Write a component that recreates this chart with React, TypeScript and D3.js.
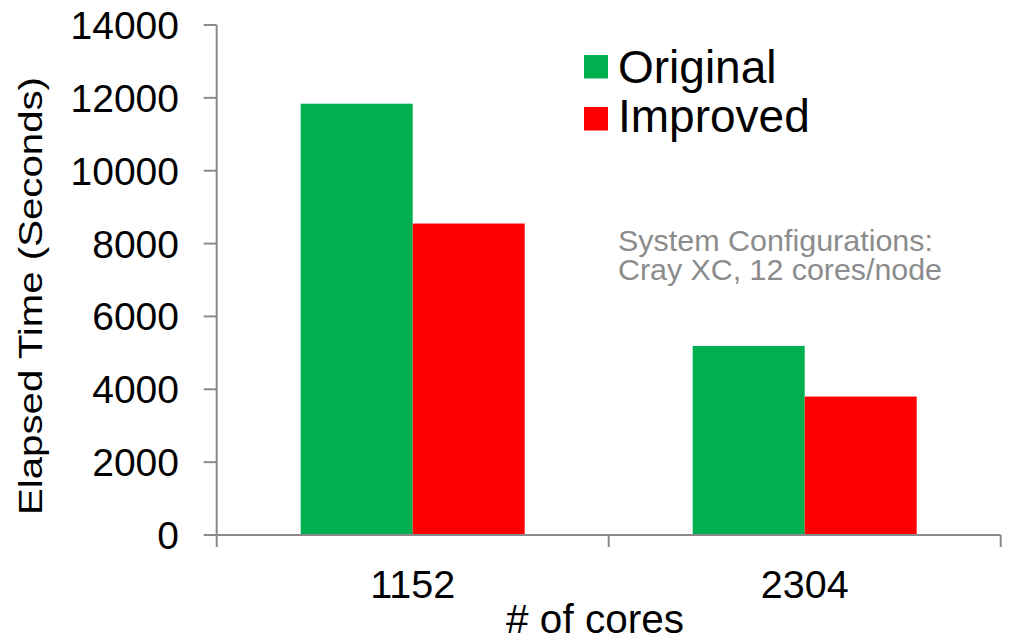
import React from "react";
import * as d3 from "d3";

// Elapsed time per core count, original vs improved code
const categories = ["1152", "2304"];
const seriesNames = ["Original", "Improved"];
const originalSeconds = [11840, 5190];
const improvedSeconds = [8550, 3800];
const yTicks = [0, 2000, 4000, 6000, 8000, 10000, 12000, 14000];
const noteLines = ["System Configurations:", "Cray XC, 12 cores/node"];

const W = 1009;
const H = 639;
const FONT = "'Liberation Sans', Arial, Helvetica, sans-serif";
const COLORS = ["#00AF50", "#FF0000"];
const AXIS = "#8a8a8a";

export default function App() {
  const left = 216.7;
  const right = 1000.7;
  const top = 25;
  const bottom = 535;

  const y = d3.scaleLinear().domain([0, 14000]).range([bottom, top]);
  const x0 = d3.scaleBand<string>().domain(categories).range([left, right]).padding(0);
  const x1 = d3
    .scaleBand<string>()
    .domain(seriesNames)
    .range([0, x0.bandwidth()])
    .paddingInner(0)
    .paddingOuter(0.75);

  const values = [originalSeconds, improvedSeconds];
  const boundaries = [left, ...categories.map((c) => (x0(c) as number) + x0.bandwidth())];
  const noteWidths = [315, 324];

  return (
    <svg
      width={W}
      height={H}
      style={{ position: "absolute", left: 0, top: 0, background: "#fff" }}
      fontFamily={FONT}
    >
      {/* bars */}
      {categories.map((c, ci) =>
        seriesNames.map((s, si) => {
          const v = values[si][ci];
          const bx = (x0(c) as number) + (x1(s) as number);
          return (
            <rect
              key={c + s}
              x={bx}
              y={y(v)}
              width={x1.bandwidth()}
              height={bottom - y(v)}
              fill={COLORS[si]}
            />
          );
        })
      )}

      {/* y axis */}
      <line x1={left} x2={left} y1={top} y2={bottom} stroke={AXIS} strokeWidth={2} />
      {yTicks.map((t) => (
        <g key={t}>
          <line x1={left - 13} x2={left} y1={y(t)} y2={y(t)} stroke={AXIS} strokeWidth={2} />
          <text x={179} y={y(t) + 14} textAnchor="end" fontSize={39} fill="#000">
            {t}
          </text>
        </g>
      ))}

      {/* x axis */}
      <line x1={left} x2={right} y1={bottom} y2={bottom} stroke={AXIS} strokeWidth={2} />
      {boundaries.map((bx, i) => (
        <line key={i} x1={bx} x2={bx} y1={bottom} y2={bottom + 12} stroke={AXIS} strokeWidth={2} />
      ))}
      {categories.map((c) => (
        <text
          key={c}
          x={(x0(c) as number) + x0.bandwidth() / 2}
          y={598}
          textAnchor="middle"
          fontSize={39.5}
          fill="#000"
        >
          {c}
        </text>
      ))}

      {/* axis titles */}
      <text x={595} y={633} textAnchor="middle" fontSize={40.5} fill="#000">
        # of cores
      </text>
      <text
        transform="translate(42,296) rotate(-90)"
        textAnchor="middle"
        fontSize={34}
        textLength={438}
        lengthAdjust="spacingAndGlyphs"
        fill="#000"
      >
        Elapsed Time (Seconds)
      </text>

      {/* legend */}
      {seriesNames.map((s, i) => (
        <g key={s}>
          <rect x={584} y={55 + i * 52} width={24} height={23.5} fill={COLORS[i]} />
          <text x={618} y={83 + i * 49} fontSize={46} fill="#000">
            {s}
          </text>
        </g>
      ))}

      {/* annotation */}
      {noteLines.map((l, i) => (
        <text
          key={i}
          x={618}
          y={251 + i * 29}
          fontSize={29.5}
          textLength={noteWidths[i]}
          lengthAdjust="spacingAndGlyphs"
          fill="#8c8c8c"
        >
          {l}
        </text>
      ))}
    </svg>
  );
}
